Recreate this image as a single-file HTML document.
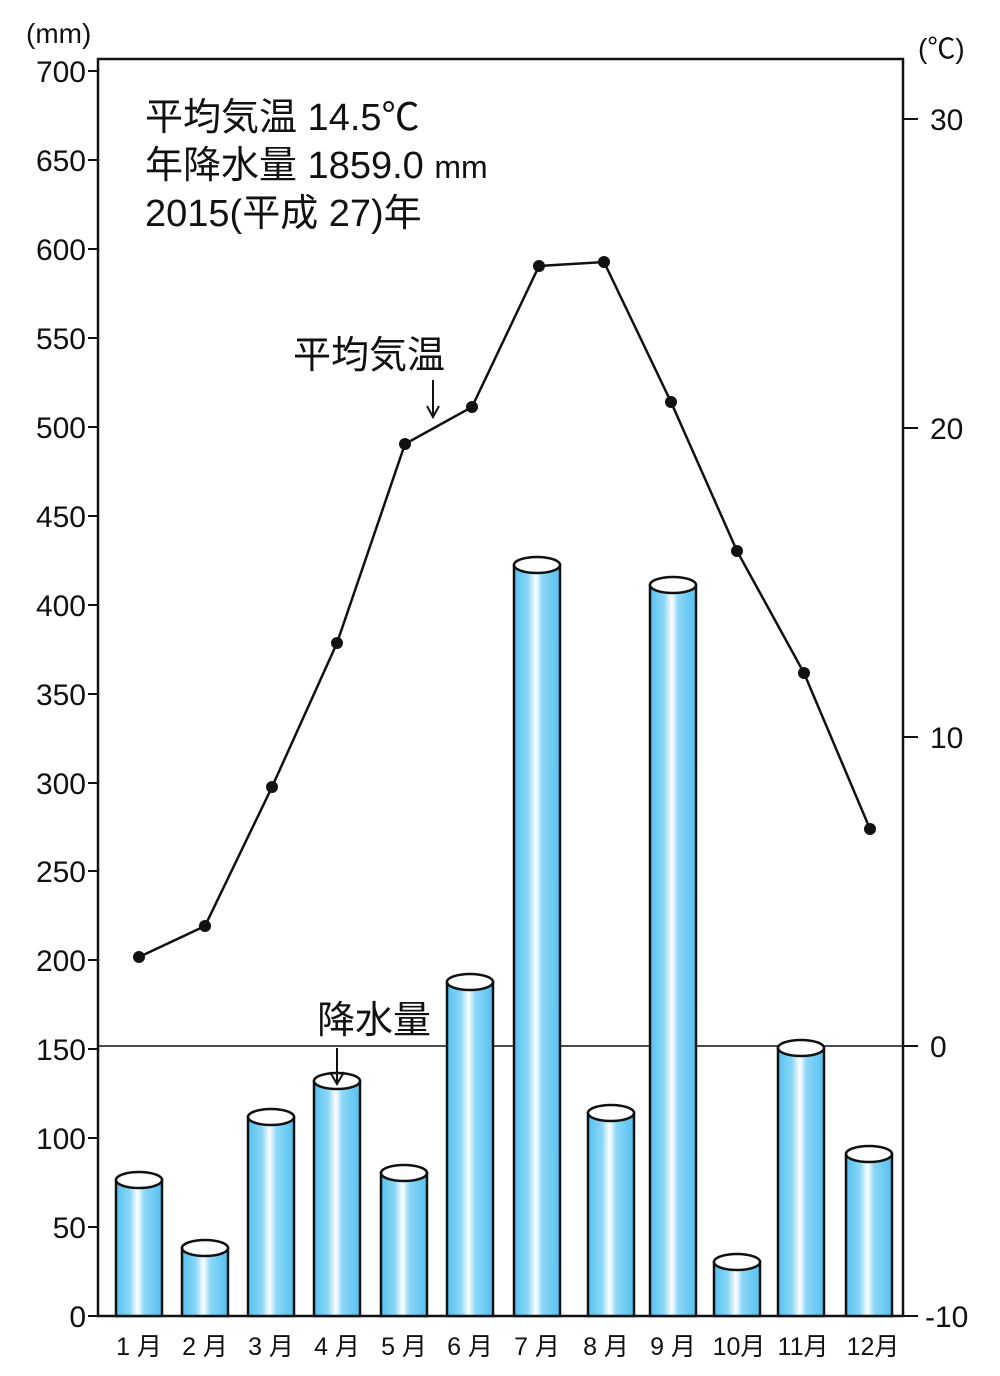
<!DOCTYPE html>
<html><head><meta charset="utf-8"><style>body{margin:0;background:#fff}svg{display:block}text{font-family:"Liberation Sans","Noto Sans CJK JP",sans-serif;fill:#111}</style></head><body>
<svg width="1000" height="1376" viewBox="0 0 1000 1376" xmlns="http://www.w3.org/2000/svg">
<defs><linearGradient id="g" x1="0" x2="1" y1="0" y2="0">
<stop offset="0" stop-color="#55c2f0"/><stop offset="0.3" stop-color="#8ad6f6"/><stop offset="0.47" stop-color="#ffffff"/><stop offset="0.62" stop-color="#8ad6f6"/><stop offset="1" stop-color="#55c2f0"/></linearGradient></defs>
<rect x="98" y="59" width="805" height="1257" fill="none" stroke="#111" stroke-width="2.5"/>
<line x1="98" y1="1046" x2="903" y2="1046" stroke="#111" stroke-width="1.5"/>
<g stroke="#111" stroke-width="2">
<line x1="88" y1="71" x2="98" y2="71"/><line x1="88" y1="160" x2="98" y2="160"/><line x1="88" y1="249" x2="98" y2="249"/><line x1="88" y1="338" x2="98" y2="338"/><line x1="88" y1="427" x2="98" y2="427"/><line x1="88" y1="516" x2="98" y2="516"/><line x1="88" y1="605" x2="98" y2="605"/><line x1="88" y1="694" x2="98" y2="694"/><line x1="88" y1="783" x2="98" y2="783"/><line x1="88" y1="871" x2="98" y2="871"/><line x1="88" y1="960" x2="98" y2="960"/><line x1="88" y1="1049" x2="98" y2="1049"/><line x1="88" y1="1138" x2="98" y2="1138"/><line x1="88" y1="1227" x2="98" y2="1227"/><line x1="88" y1="1316" x2="98" y2="1316"/>
<line x1="903" y1="119" x2="918" y2="119"/><line x1="903" y1="428" x2="918" y2="428"/><line x1="903" y1="737" x2="918" y2="737"/><line x1="903" y1="1046" x2="918" y2="1046"/><line x1="903" y1="1316" x2="918" y2="1316"/>
</g>
<g font-size="30" text-anchor="end">
<text x="86" y="82">700</text><text x="86" y="171">650</text><text x="86" y="260">600</text><text x="86" y="349">550</text><text x="86" y="438">500</text><text x="86" y="527">450</text><text x="86" y="616">400</text><text x="86" y="705">350</text><text x="86" y="794">300</text><text x="86" y="882">250</text><text x="86" y="971">200</text><text x="86" y="1060">150</text><text x="86" y="1149">100</text><text x="86" y="1238">50</text><text x="86" y="1327">0</text>
</g>
<text x="26" y="43" font-size="28">(mm)</text>
<text x="918" y="58" font-size="28">(℃)</text>
<g font-size="30">
<text x="930" y="130">30</text><text x="930" y="439">20</text><text x="930" y="748">10</text><text x="930" y="1057">0</text><text x="925" y="1327">-10</text>
</g>
<g stroke="#111" stroke-width="2.5" fill="url(#g)">
<path d="M116 1180 V1316 H162 V1180 Z"/><ellipse cx="139" cy="1180" rx="23" ry="8" fill="#fff"/>
<path d="M182 1248 V1316 H228 V1248 Z"/><ellipse cx="205" cy="1248" rx="23" ry="8" fill="#fff"/>
<path d="M248 1117 V1316 H294 V1117 Z"/><ellipse cx="271" cy="1117" rx="23" ry="8" fill="#fff"/>
<path d="M314 1081 V1316 H360 V1081 Z"/><ellipse cx="337" cy="1081" rx="23" ry="8" fill="#fff"/>
<path d="M381 1173 V1316 H427 V1173 Z"/><ellipse cx="404" cy="1173" rx="23" ry="8" fill="#fff"/>
<path d="M447 982 V1316 H493 V982 Z"/><ellipse cx="470" cy="982" rx="23" ry="8" fill="#fff"/>
<path d="M514 565 V1316 H560 V565 Z"/><ellipse cx="537" cy="565" rx="23" ry="8" fill="#fff"/>
<path d="M588 1113 V1316 H634 V1113 Z"/><ellipse cx="611" cy="1113" rx="23" ry="8" fill="#fff"/>
<path d="M650 585 V1316 H696 V585 Z"/><ellipse cx="673" cy="585" rx="23" ry="8" fill="#fff"/>
<path d="M714 1262 V1316 H760 V1262 Z"/><ellipse cx="737" cy="1262" rx="23" ry="8" fill="#fff"/>
<path d="M778 1048 V1316 H824 V1048 Z"/><ellipse cx="801" cy="1048" rx="23" ry="8" fill="#fff"/>
<path d="M846 1154 V1316 H892 V1154 Z"/><ellipse cx="869" cy="1154" rx="23" ry="8" fill="#fff"/>
</g>
<polyline points="139,957 205,926 272,787 337,643 405,444 472,407 539,266 604,262 671,402 737,551 804,673 870,829" fill="none" stroke="#111" stroke-width="2.5"/>
<g fill="#111">
<circle cx="139" cy="957" r="6"/><circle cx="205" cy="926" r="6"/><circle cx="272" cy="787" r="6"/><circle cx="337" cy="643" r="6"/><circle cx="405" cy="444" r="6"/><circle cx="472" cy="407" r="6"/><circle cx="539" cy="266" r="6"/><circle cx="604" cy="262" r="6"/><circle cx="671" cy="402" r="6"/><circle cx="737" cy="551" r="6"/><circle cx="804" cy="673" r="6"/><circle cx="870" cy="829" r="6"/>
</g>
<g font-size="25" text-anchor="middle">
<text x="139" y="1355">1 月</text><text x="205" y="1355">2 月</text><text x="271" y="1355">3 月</text><text x="337" y="1355">4 月</text><text x="404" y="1355">5 月</text><text x="470" y="1355">6 月</text><text x="537" y="1355">7 月</text><text x="606" y="1355">8 月</text><text x="673" y="1355">9 月</text><text x="739" y="1355">10月</text><text x="803" y="1355">11月</text><text x="873" y="1355">12月</text>
</g>
<g font-size="38">
<text x="145" y="130">平均気温 14.5℃</text>
<text x="145" y="178">年降水量 1859.0 <tspan font-size="32">mm</tspan></text>
<text x="145" y="226">2015(平成 27)年</text>
</g>
<text x="293" y="368" font-size="38">平均気温</text>
<g stroke="#111" stroke-width="2" fill="none">
<line x1="433" y1="380" x2="433" y2="416"/><polyline points="427,406 433,417 439,406"/>
<line x1="337" y1="1048" x2="337" y2="1083"/><polyline points="330,1072 337,1084 344,1072"/>
</g>
<text x="317" y="1033" font-size="38">降水量</text>
</svg>
</body></html>
